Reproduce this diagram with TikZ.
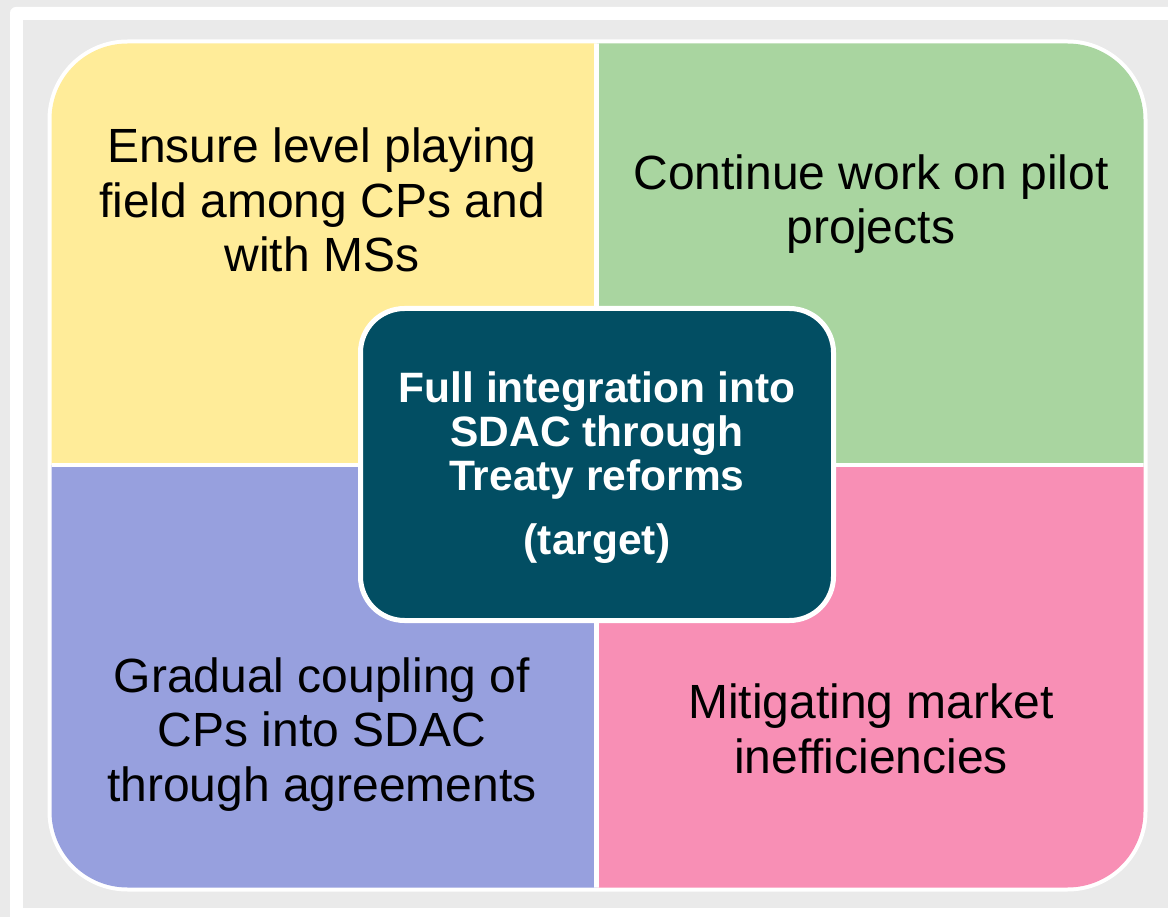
\documentclass[tikz,border=0pt]{standalone}
\usepackage{fontspec}
\setmainfont{Liberation Sans}
\definecolor{bggray}{RGB}{234,234,234}
\definecolor{qyellow}{RGB}{255,236,153}
\definecolor{qgreen}{RGB}{169,213,160}
\definecolor{qblue}{RGB}{151,160,222}
\definecolor{qpink}{RGB}{248,143,181}
\definecolor{cteal}{RGB}{2,78,99}
\tikzset{
  quadtext/.style={align=center, anchor=base, inner sep=0pt, text=black,
    font=\fontsize{48}{54.5}\selectfont},
  centerbox/.style={draw=white, line width=5pt, fill=cteal, rounded corners=44pt,
    minimum width=473pt, minimum height=312pt, inner sep=0pt},
  centertext/.style={align=center, anchor=base, inner sep=0pt, text=white,
    font=\fontsize{42.5}{43.8}\selectfont\bfseries},
}
\begin{document}
\begin{tikzpicture}[x=1pt, y=-1pt]
\useasboundingbox (0,0) rectangle (1168,917);
% background and frame
\fill[bggray] (0,0) rectangle (1168,917);
\fill[white, rounded corners=6pt] (10,7) rectangle (1200,950);
\fill[bggray] (23,20) rectangle (1200,908);
% outer white rim of the quadrant block
\fill[white, rounded corners=80pt] (47.5,39.5) rectangle (1147.5,891.5);
% quadrants clipped to the rounded block
\begin{scope}
  \clip[rounded corners=76pt] (51.5,43.5) rectangle (1143.5,887.5);
  \fill[qyellow] (40,30) rectangle (596.5,465);
  \fill[qgreen] (596.5,30) rectangle (1160,465);
  \fill[qblue] (40,465) rectangle (596.5,900);
  \fill[qpink] (596.5,465) rectangle (1160,900);
  \draw[white, line width=4.5pt] (596.5,30) -- (596.5,900);
  \draw[white, line width=4pt] (40,465) -- (1160,465);
\end{scope}
% quadrant texts (anchored at the baseline of their last line)
\node[quadtext] (tl) at (322,272) {Ensure level playing\\field among CPs and\\with MSs};
\node[quadtext] (tr) at (871,244) {Continue work on pilot\\projects};
\node[quadtext] (bl) at (322,801) {Gradual coupling of\\CPs into SDAC\\through agreements};
\node[quadtext] (br) at (871,773) {Mitigating market\\inefficiencies};
% centre box
\node[centerbox] (ctr) at (597,464.5) {};
\node[centertext] (ctrtext) at (597,554) {Full integration into\\SDAC through\\Treaty reforms\\[20pt](target)};
\end{tikzpicture}
\end{document}
